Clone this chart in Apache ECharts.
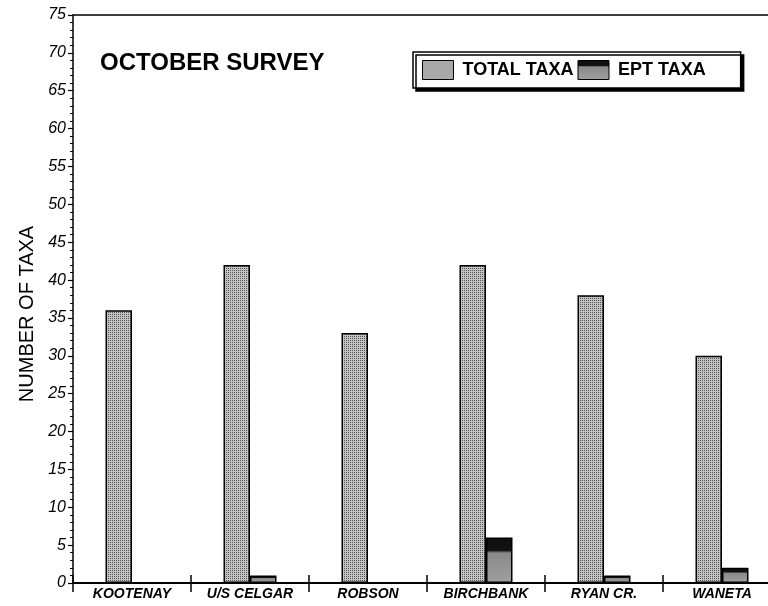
<!DOCTYPE html>
<html>
<head>
<meta charset="utf-8">
<script src="https://cdn.jsdelivr.net/npm/echarts@6/dist/echarts.min.js"></script>
<style>
html,body{margin:0;padding:0;background:#fff;}
#chart{width:768px;height:606px;}
</style>
</head>
<body>
<div id="chart"></div>
<script>
// ---- data ----
const categories = ['KOOTENAY', 'U/S CELGAR', 'ROBSON', 'BIRCHBANK', 'RYAN CR.', 'WANETA'];
const totalTaxa = [36, 42, 33, 42, 38, 30];
const eptTaxa = [0, 1, 0, 6, 1, 2];
const seriesNames = ['TOTAL TAXA', 'EPT TAXA'];
const chartTitle = 'OCTOBER SURVEY';
const yAxisName = 'NUMBER OF TAXA';
const yMin = 0, yMax = 75, yStep = 5;

// ---- stipple pattern ----
function makePattern(dark, light) {
  const c = document.createElement('canvas');
  c.width = 2; c.height = 2;
  const g = c.getContext('2d');
  g.fillStyle = light; g.fillRect(0, 0, 2, 2);
  g.fillStyle = dark; g.fillRect(0, 0, 1, 1);
  return c;
}
const totalFill = { image: makePattern('#555555', '#c4c4c4'), repeat: 'repeat' };
const eptFill = {
  type: 'linear', x: 0, y: 0, x2: 0, y2: 1,
  colorStops: [
    { offset: 0, color: '#111' },
    { offset: 0.28, color: '#111' },
    { offset: 0.34, color: '#8a8a8a' },
    { offset: 1, color: '#9f9f9f' }
  ]
};

const FONT = 'Liberation Sans, Arial, Helvetica, sans-serif';
const chart = echarts.init(document.getElementById('chart'), null, { renderer: 'canvas' });

chart.setOption({
  backgroundColor: '#fff',
  animation: false,
  title: {
    text: chartTitle,
    left: 100, top: 51, padding: 0,
    textStyle: { fontFamily: FONT, fontSize: 24, fontWeight: 'bold', color: '#000' }
  },
  legend: {
    data: seriesNames,
    icon: 'rect',
    left: 413, top: 52,
    width: 329,
    padding: [8, 35, 8, 9],
    itemWidth: 31, itemHeight: 19, itemGap: 4,
    backgroundColor: '#fff',
    borderColor: '#000', borderWidth: 1.5,
    shadowColor: '#000', shadowBlur: 0, shadowOffsetX: 3, shadowOffsetY: 3,
    textStyle: { fontFamily: FONT, fontSize: 18, fontWeight: 'bold', color: '#000', padding: [0, 0, 0, 4] },
    itemStyle: { borderColor: '#000', borderWidth: 1 }
  },
  grid: { left: 73, top: 15, width: 708, bottom: 23, containLabel: false, outerBoundsMode: 'none' },
  xAxis: [
    {
      type: 'category', data: categories, position: 'bottom',
      axisLine: { lineStyle: { color: '#000', width: 2 } },
      axisTick: { show: true, length: 9, lineStyle: { color: '#000', width: 1.5 } },
      axisLabel: { margin: 4, fontFamily: FONT, fontSize: 14, fontWeight: 'bold', fontStyle: 'italic', color: '#000' }
    },
    {
      type: 'category', data: categories, position: 'top',
      axisLine: { show: true, lineStyle: { color: '#000', width: 1.5 } },
      axisTick: { show: false }, axisLabel: { show: false }
    },
    {
      type: 'category', data: categories, position: 'bottom',
      axisLine: { show: false },
      axisTick: { show: true, inside: true, length: 8, lineStyle: { color: '#000', width: 1.5 } },
      axisLabel: { show: false }
    }
  ],
  yAxis: {
    type: 'value', min: yMin, max: yMax, interval: yStep,
    name: yAxisName, nameLocation: 'middle', nameGap: 36, nameRotate: 90,
    nameTextStyle: { fontFamily: FONT, fontSize: 20, color: '#000', padding: [0, 30, 0, 0] },
    axisLine: { show: true, lineStyle: { color: '#000', width: 1.5 } },
    axisTick: { show: true, length: 5, lineStyle: { color: '#000', width: 1.2 } },
    minorTick: { show: true, splitNumber: 5, length: 3, lineStyle: { color: '#000', width: 1 } },
    splitLine: { show: false },
    axisLabel: { margin: 7, fontFamily: FONT, fontSize: 16, fontStyle: 'italic', color: '#000' }
  },
  series: [
    {
      name: seriesNames[0], type: 'bar', data: totalTaxa, xAxisIndex: 0,
      barWidth: 26.5, barGap: '0%',
      itemStyle: { color: totalFill, borderColor: '#000', borderWidth: 1.5 }
    },
    {
      name: seriesNames[1], type: 'bar', data: eptTaxa, xAxisIndex: 0,
      barWidth: 26.5, barGap: '0%',
      itemStyle: { color: eptFill, borderColor: '#000', borderWidth: 1.5 }
    }
  ]
});
</script>
</body>
</html>
